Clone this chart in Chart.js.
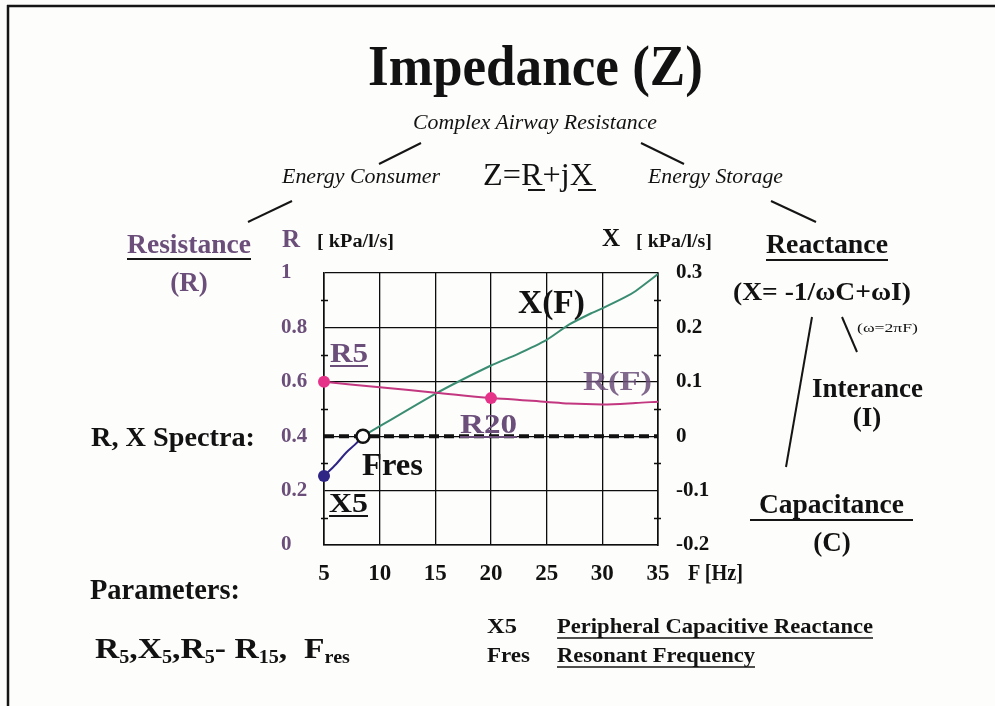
<!DOCTYPE html>
<html>
<head>
<meta charset="utf-8">
<script src="https://cdn.jsdelivr.net/npm/chart.js@4.4.1/dist/chart.umd.min.js"></script>
<style>
  html, body { margin: 0; padding: 0; background: #fdfdfb; }
  #wrap { position: relative; width: 995px; height: 706px; overflow: hidden; }
  #chart { position: absolute; left: 0; top: 0; }
  #overlay { position: absolute; left: 0; top: 0; pointer-events: none; }
  #overlay text { font-family: 'Liberation Serif', 'Times New Roman', serif; font-weight: bold; fill: #121212; white-space: pre; }
  #overlay .it { font-style: italic; font-weight: normal; }
  #overlay .rg { font-weight: normal; }
  #overlay .pu { fill: #6b4f7a; }
  #overlay line { stroke: #151515; stroke-width: 2; }
</style>
</head>
<body>
<div id="wrap">
  <canvas id="chart" width="995" height="706"></canvas>
  <svg id="overlay" width="995" height="706" viewBox="0 0 995 706">
    <!-- frame -->
    <line x1="7" y1="6" x2="995" y2="6" style="stroke-width:2.5"/>
    <line x1="8" y1="5" x2="8" y2="706" style="stroke-width:2.5"/>

    <!-- heading tree -->
    <text x="368" y="85" font-size="57" textLength="335" lengthAdjust="spacingAndGlyphs">Impedance (Z)</text>
    <text class="it" x="413" y="129" font-size="22" textLength="244" lengthAdjust="spacingAndGlyphs">Complex Airway Resistance</text>
    <line x1="421" y1="143" x2="379" y2="164"/>
    <line x1="641" y1="143" x2="684" y2="164"/>
    <text class="it" x="282" y="183" font-size="21" textLength="158" lengthAdjust="spacingAndGlyphs">Energy Consumer</text>
    <text class="rg" x="483" y="185" font-size="31" textLength="110" lengthAdjust="spacingAndGlyphs">Z=R+jX</text>
    <line x1="528" y1="190" x2="545" y2="190"/>
    <line x1="578" y1="190" x2="596" y2="190"/>
    <text class="it" x="648" y="183" font-size="21" textLength="135" lengthAdjust="spacingAndGlyphs">Energy Storage</text>
    <line x1="292" y1="201" x2="248" y2="222"/>
    <line x1="771" y1="201" x2="816" y2="222"/>

    <!-- left side -->
    <text class="pu" x="127" y="253" font-size="27" textLength="124" lengthAdjust="spacingAndGlyphs">Resistance</text>
    <line x1="127" y1="259" x2="251" y2="259"/>
    <text class="pu" x="189" y="291" font-size="27" text-anchor="middle">(R)</text>
    <text x="91" y="446" font-size="28" textLength="164" lengthAdjust="spacingAndGlyphs">R, X Spectra:</text>

    <!-- axis titles -->
    <text class="pu" x="282" y="247" font-size="25">R</text>
    <text x="317" y="247" font-size="18" textLength="77" lengthAdjust="spacingAndGlyphs">[ kPa/l/s]</text>
    <text x="602" y="246" font-size="25">X</text>
    <text x="636" y="247" font-size="18" textLength="76" lengthAdjust="spacingAndGlyphs">[ kPa/l/s]</text>
    <text x="688" y="580" font-size="23" textLength="55" lengthAdjust="spacingAndGlyphs">F [Hz]</text>

    <!-- right side -->
    <text x="766" y="253" font-size="28" textLength="122" lengthAdjust="spacingAndGlyphs">Reactance</text>
    <line x1="766" y1="260" x2="888" y2="260"/>
    <text x="733" y="300" font-size="25" textLength="178" lengthAdjust="spacingAndGlyphs">(X= -1/ωC+ωI)</text>
    <line x1="812" y1="317" x2="786" y2="467"/>
    <line x1="842" y1="317" x2="857" y2="352"/>
    <text class="rg" x="857" y="332" font-size="12" textLength="61" lengthAdjust="spacingAndGlyphs">(ω=2πF)</text>
    <text x="812" y="397" font-size="27" textLength="111" lengthAdjust="spacingAndGlyphs">Interance</text>
    <text x="867" y="426" font-size="27" text-anchor="middle">(I)</text>
    <text x="759" y="513" font-size="28" textLength="145" lengthAdjust="spacingAndGlyphs">Capacitance</text>
    <line x1="750" y1="520" x2="913" y2="520"/>
    <text x="832" y="551" font-size="27" text-anchor="middle">(C)</text>

    <!-- in-plot labels -->
    <text class="pu" x="330" y="362" font-size="27" textLength="38" lengthAdjust="spacingAndGlyphs">R5</text>
    <line x1="330" y1="366" x2="368" y2="366" style="stroke:#6b4f7a"/>
    <text class="pu" x="460" y="433" font-size="28" textLength="57" lengthAdjust="spacingAndGlyphs">R20</text>
    <line x1="460" y1="437" x2="517" y2="437" style="stroke:#6b4f7a"/>
    <text class="pu" x="583" y="390" font-size="28" textLength="69" lengthAdjust="spacingAndGlyphs" opacity="0.85">R(F)</text>
    <text x="518" y="313" font-size="34" textLength="67" lengthAdjust="spacingAndGlyphs">X(F)</text>
    <text x="362" y="475" font-size="31" textLength="61" lengthAdjust="spacingAndGlyphs">Fres</text>
    <text x="329" y="512" font-size="27" textLength="39" lengthAdjust="spacingAndGlyphs">X5</text>
    <line x1="329" y1="516" x2="368" y2="516"/>

    <!-- parameters -->
    <text x="90" y="599" font-size="29" textLength="150" lengthAdjust="spacingAndGlyphs">Parameters:</text>
    <text x="95" y="658" font-size="30" textLength="255" lengthAdjust="spacingAndGlyphs">R<tspan font-size="18" dy="5">5</tspan><tspan dy="-5">,X</tspan><tspan font-size="18" dy="5">5</tspan><tspan dy="-5">,R</tspan><tspan font-size="18" dy="5">5</tspan><tspan dy="-5">- R</tspan><tspan font-size="18" dy="5">15</tspan><tspan dy="-5">,  F</tspan><tspan font-size="18" dy="5">res</tspan></text>
    <text x="487" y="633" font-size="22" textLength="30" lengthAdjust="spacingAndGlyphs">X5</text>
    <text x="557" y="633" font-size="22" textLength="316" lengthAdjust="spacingAndGlyphs">Peripheral Capacitive Reactance</text>
    <line x1="557" y1="638" x2="873" y2="638" style="stroke-width:1.5"/>
    <text x="487" y="662" font-size="22" textLength="43" lengthAdjust="spacingAndGlyphs">Fres</text>
    <text x="557" y="662" font-size="22" textLength="198" lengthAdjust="spacingAndGlyphs">Resonant Frequency</text>
    <line x1="557" y1="667" x2="755" y2="667" style="stroke-width:1.5"/>
  </svg>
</div>

<script>
// ---- data ----
const freqTicks = [5, 10, 15, 20, 25, 30, 35];
const rTicks = [0, 0.2, 0.4, 0.6, 0.8, 1];
const xTicks = [-0.2, -0.1, 0, 0.1, 0.2, 0.3];
const rMinorTicks = [0.1, 0.3, 0.5, 0.7, 0.9];

// R(F) resistance curve (left axis)
const rFreq   = [5, 10, 15, 20, 21, 25, 27, 30, 33, 35];
const rValues = [0.600, 0.580, 0.560, 0.540, 0.538, 0.526, 0.520, 0.517, 0.522, 0.527];
// R5 and R20 markers
const rMarkFreq   = [5, 20];
const rMarkValues = [0.600, 0.540];

// X(F) reactance, below resonance (navy) and above (green), right axis
const xLowFreq    = [5, 6.1, 7.0, 7.8, 8.5];
const xLowValues  = [-0.073, -0.051, -0.030, -0.015, 0];
const xHighFreq   = [8.5, 15, 20, 22.3, 25, 27, 29, 30, 32, 33, 35];
const xHighValues = [0, 0.078, 0.130, 0.150, 0.177, 0.205, 0.226, 0.235, 0.255, 0.267, 0.298];

// zero reactance reference line, X5 point, resonant frequency
const zeroFreq   = [5, 35];
const zeroValues = [0, 0];
const x5Freq  = [5];
const x5Value = [-0.073];
const fresFreq  = [8.5];
const fresValue = [0];

// ---- styling ----
const serif = "'Liberation Serif', 'Times New Roman', serif";
const colors = {
  purple: '#6b4f7a',
  magenta: '#c2377f',
  pink: '#e6338a',
  green: '#3a8d72',
  navy: '#2e2585',
  grid: '#0d0d0d'
};

const pts = (xs, ys) => xs.map((x, i) => ({ x: x, y: ys[i] }));
const fmt = v => String(Math.round(v * 10) / 10);

// small inward tick marks at the odd tenths on both vertical axes
const minorTicks = {
  id: 'minorTicks',
  afterDraw(chart) {
    const ctx = chart.ctx;
    const area = chart.chartArea;
    const yR = chart.scales.yR;
    ctx.save();
    ctx.strokeStyle = colors.grid;
    ctx.lineWidth = 1.3;
    rMinorTicks.forEach(v => {
      const y = Math.round(yR.getPixelForValue(v)) + 0.5;
      ctx.beginPath();
      ctx.moveTo(area.left - 3, y);
      ctx.lineTo(area.left + 4, y);
      ctx.moveTo(area.right - 4, y);
      ctx.lineTo(area.right + 3, y);
      ctx.stroke();
    });
    ctx.restore();
  }
};

new Chart(document.getElementById('chart'), {
  type: 'line',
  data: {
    datasets: [
      {
        // Fres open circle
        data: pts(fresFreq, fresValue), yAxisID: 'yX', showLine: false, clip: false,
        pointRadius: 6.5, pointBorderWidth: 2.5, pointBorderColor: '#111', pointBackgroundColor: '#fdfdfb'
      },
      {
        // X5
        data: pts(x5Freq, x5Value), yAxisID: 'yX', showLine: false, clip: false,
        pointRadius: 6, pointBorderWidth: 0, pointBackgroundColor: colors.navy
      },
      {
        // R5 / R20
        data: pts(rMarkFreq, rMarkValues), yAxisID: 'yR', showLine: false, clip: false,
        pointRadius: 6, pointBorderWidth: 0, pointBackgroundColor: colors.pink
      },
      {
        label: 'R(F)', data: pts(rFreq, rValues), yAxisID: 'yR',
        borderColor: colors.magenta, borderWidth: 2, pointRadius: 0, cubicInterpolationMode: 'monotone'
      },
      {
        label: 'X(F) low', data: pts(xLowFreq, xLowValues), yAxisID: 'yX',
        borderColor: colors.navy, borderWidth: 2, pointRadius: 0, cubicInterpolationMode: 'monotone'
      },
      {
        label: 'X(F)', data: pts(xHighFreq, xHighValues), yAxisID: 'yX',
        borderColor: colors.green, borderWidth: 2, pointRadius: 0, tension: 0.2
      },
      {
        // X = 0 reference
        data: pts(zeroFreq, zeroValues), yAxisID: 'yX',
        borderColor: '#111', borderWidth: 4, borderDash: [10, 5], pointRadius: 0
      }
    ]
  },
  options: {
    responsive: false,
    animation: false,
    events: [],
    layout: { padding: { left: 281, right: 277, top: 273, bottom: 121 } },
    plugins: { legend: { display: false }, tooltip: { enabled: false } },
    scales: {
      x: {
        type: 'linear', position: 'bottom', min: 5, max: 35,
        afterBuildTicks: s => { s.ticks = freqTicks.map(v => ({ value: v })); },
        afterFit: s => { s.height = 40; },
        grid: { color: colors.grid, lineWidth: 1.3, drawTicks: false },
        border: { color: colors.grid, width: 1.6 },
        ticks: { padding: 15, maxRotation: 0, color: '#111', font: { family: serif, size: 23, weight: 'bold' } }
      },
      yR: {
        type: 'linear', position: 'left', min: 0, max: 1,
        afterBuildTicks: s => { s.ticks = rTicks.map(v => ({ value: v })); },
        afterFit: s => { s.width = 43; },
        grid: { color: colors.grid, lineWidth: 1.3, drawTicks: false },
        border: { color: colors.grid, width: 1.6 },
        ticks: { crossAlign: 'far', padding: 10, color: colors.purple, callback: fmt, font: { family: serif, size: 21, weight: 'bold' } }
      },
      yX: {
        type: 'linear', position: 'right', min: -0.2, max: 0.3,
        afterBuildTicks: s => { s.ticks = xTicks.map(v => ({ value: v })); },
        afterFit: s => { s.width = 60; },
        grid: { drawOnChartArea: false, drawTicks: false },
        border: { color: colors.grid, width: 1.6 },
        ticks: { padding: 18, color: '#111', callback: fmt, font: { family: serif, size: 21, weight: 'bold' } }
      }
    }
  },
  plugins: [minorTicks]
});
</script>
</body>
</html>
